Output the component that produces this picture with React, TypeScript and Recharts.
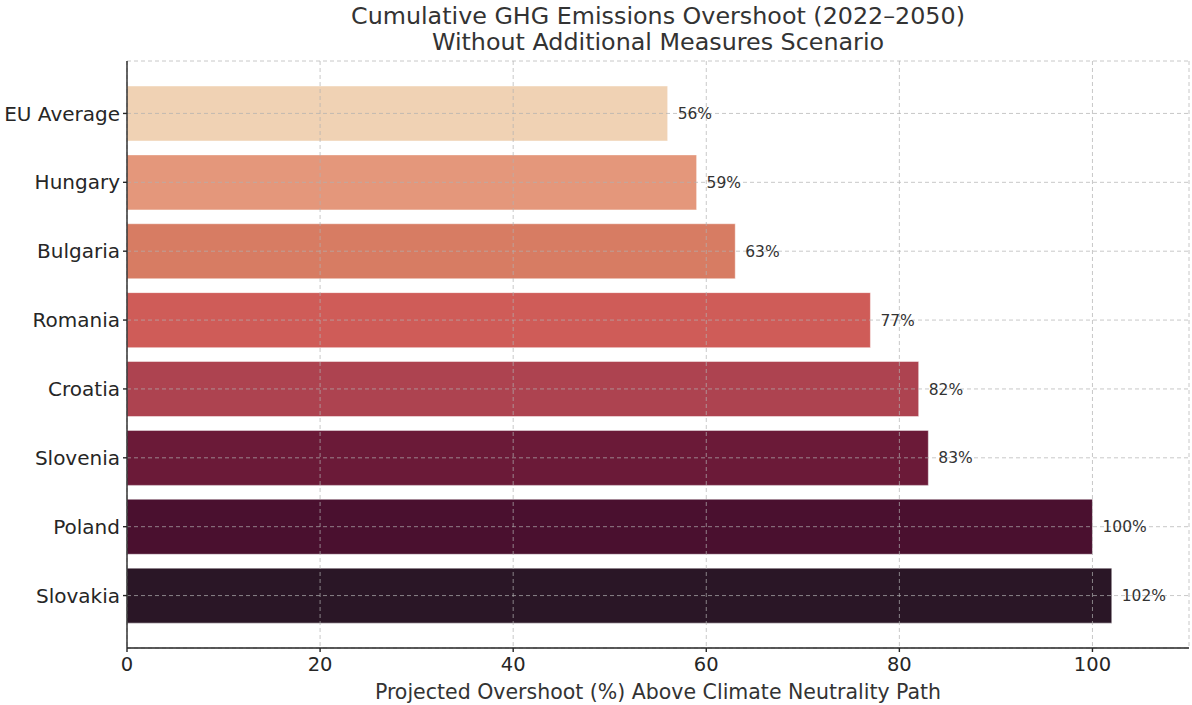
import { BarChart, Bar, XAxis, YAxis, CartesianGrid, Cell, LabelList } from 'recharts';

const PAYS = ['EU Average', 'Hungary', 'Bulgaria', 'Romania', 'Croatia', 'Slovenia', 'Poland', 'Slovakia'];
const DEPASSEMENT = [56, 59, 63, 77, 82, 83, 100, 102];
const COULEURS = ['#f0d2b4', '#e4977b', '#d77c63', '#cf5c58', '#ad4350', '#6b1a38', '#4a102f', '#2a1626'];
const TICKS_X = [0, 20, 40, 60, 80, 100];

const FONT = '"DejaVu Sans", sans-serif';

// Barres horizontales, palette "rocket" inversée, grille pointillée par-dessus les barres.
export default function App() {
  const rows = PAYS.map((pays, i) => ({ pays, valeur: DEPASSEMENT[i] }));
  return (
    <div style={{ position: 'relative', width: 1192, height: 705, fontFamily: FONT }}>
      <style>{'body{margin:0}'}</style>
      <div
        style={{
          position: 'absolute', left: 127, width: 1062, top: 3, textAlign: 'center',
          fontSize: 23.8, lineHeight: '26px', color: '#333',
        }}
      >
        Cumulative GHG Emissions Overshoot (2022–2050)
        <br />
        Without Additional Measures Scenario
      </div>
      <BarChart
        width={1192}
        height={705}
        data={rows}
        layout="vertical"
        margin={{ top: 61, right: 3, left: 0, bottom: 0 }}
      >
        <CartesianGrid stroke="#b0b0b0" strokeOpacity={0.7} strokeDasharray="4 3" zIndex={1000} />
        <XAxis
          type="number"
          domain={[0, 110]}
          ticks={TICKS_X}
          allowDataOverflow
          zIndex={1100}
          tick={{ fontSize: 19.5, fill: '#262626', fontFamily: FONT }}
          tickSize={4}
          tickMargin={5}
          stroke="#262626"
          strokeWidth={1.4}
          tickLine={{ stroke: '#262626' }}
          label={{
            value: 'Projected Overshoot (%) Above Climate Neutrality Path',
            position: 'insideBottom',
            offset: 6,
            fontSize: 20.5,
            fill: '#333',
            fontFamily: FONT,
          }}
          height={57}
        />
        <YAxis
          type="category"
          dataKey="pays"
          width={127}
          zIndex={1100}
          padding={{ top: 18, bottom: 18 }}
          tick={{ fontSize: 20, fill: '#262626', fontFamily: FONT }}
          tickSize={4}
          tickMargin={3}
          stroke="#262626"
          strokeWidth={1.4}
        />
        <Bar dataKey="valeur" barSize={55} isAnimationActive={false} stroke="rgba(255,255,255,0.45)" strokeWidth={1}>
          {rows.map((r, i) => (
            <Cell key={r.pays} fill={COULEURS[i]} />
          ))}
          <LabelList
            dataKey="valeur"
            position="right"
            offset={10}
            formatter={(v: number) => `${v}%`}
            style={{ fontSize: 15.5, fill: '#333', fontFamily: FONT }}
          />
        </Bar>
      </BarChart>
    </div>
  );
}
